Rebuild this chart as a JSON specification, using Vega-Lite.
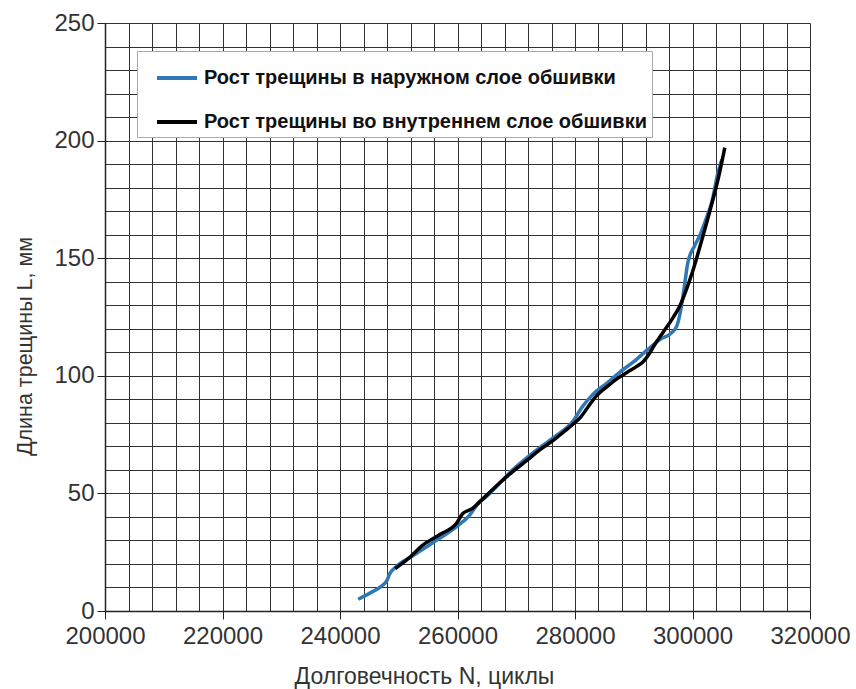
{
  "$schema": "https://vega.github.io/schema/vega-lite/v6.json",
  "width": 705,
  "height": 588,
  "autosize": "none",
  "padding": {"left": 105, "top": 23, "right": 46, "bottom": 78},
  "background": "white",
  "config": {
    "font": "Liberation Sans",
    "view": {"stroke": null}
  },
  "data": {
    "values": [
      {"N": 243100, "L": 5, "s": "Рост трещины в наружном слое обшивки"},
      {"N": 245000, "L": 7.5, "s": "Рост трещины в наружном слое обшивки"},
      {"N": 247000, "L": 10.5, "s": "Рост трещины в наружном слое обшивки"},
      {"N": 248000, "L": 13, "s": "Рост трещины в наружном слое обшивки"},
      {"N": 248500, "L": 16, "s": "Рост трещины в наружном слое обшивки"},
      {"N": 249400, "L": 18.5, "s": "Рост трещины в наружном слое обшивки"},
      {"N": 252400, "L": 23.5, "s": "Рост трещины в наружном слое обшивки"},
      {"N": 255800, "L": 29, "s": "Рост трещины в наружном слое обшивки"},
      {"N": 259900, "L": 36, "s": "Рост трещины в наружном слое обшивки"},
      {"N": 262000, "L": 40.5, "s": "Рост трещины в наружном слое обшивки"},
      {"N": 263300, "L": 45, "s": "Рост трещины в наружном слое обшивки"},
      {"N": 265500, "L": 50, "s": "Рост трещины в наружном слое обшивки"},
      {"N": 269400, "L": 60, "s": "Рост трещины в наружном слое обшивки"},
      {"N": 273500, "L": 68.5, "s": "Рост трещины в наружном слое обшивки"},
      {"N": 276500, "L": 74, "s": "Рост трещины в наружном слое обшивки"},
      {"N": 279600, "L": 80.5, "s": "Рост трещины в наружном слое обшивки"},
      {"N": 281300, "L": 87, "s": "Рост трещины в наружном слое обшивки"},
      {"N": 283000, "L": 92, "s": "Рост трещины в наружном слое обшивки"},
      {"N": 285500, "L": 97, "s": "Рост трещины в наружном слое обшивки"},
      {"N": 287600, "L": 101.5, "s": "Рост трещины в наружном слое обшивки"},
      {"N": 290000, "L": 106, "s": "Рост трещины в наружном слое обшивки"},
      {"N": 292300, "L": 111, "s": "Рост трещины в наружном слое обшивки"},
      {"N": 294500, "L": 115.5, "s": "Рост трещины в наружном слое обшивки"},
      {"N": 296300, "L": 118, "s": "Рост трещины в наружном слое обшивки"},
      {"N": 297300, "L": 121, "s": "Рост трещины в наружном слое обшивки"},
      {"N": 298000, "L": 128, "s": "Рост трещины в наружном слое обшивки"},
      {"N": 298500, "L": 136, "s": "Рост трещины в наружном слое обшивки"},
      {"N": 299200, "L": 148, "s": "Рост трещины в наружном слое обшивки"},
      {"N": 300300, "L": 155, "s": "Рост трещины в наружном слое обшивки"},
      {"N": 301300, "L": 160, "s": "Рост трещины в наружном слое обшивки"},
      {"N": 302500, "L": 168, "s": "Рост трещины в наружном слое обшивки"},
      {"N": 303300, "L": 174, "s": "Рост трещины в наружном слое обшивки"},
      {"N": 304300, "L": 186, "s": "Рост трещины в наружном слое обшивки"},
      {"N": 305000, "L": 192, "s": "Рост трещины в наружном слое обшивки"},
      {"N": 249400, "L": 18, "s": "Рост трещины во внутреннем слое обшивки"},
      {"N": 251500, "L": 22, "s": "Рост трещины во внутреннем слое обшивки"},
      {"N": 254100, "L": 28, "s": "Рост трещины во внутреннем слое обшивки"},
      {"N": 257000, "L": 32.5, "s": "Рост трещины во внутреннем слое обшивки"},
      {"N": 259900, "L": 37.5, "s": "Рост трещины во внутреннем слое обшивки"},
      {"N": 260900, "L": 41.5, "s": "Рост трещины во внутреннем слое обшивки"},
      {"N": 262500, "L": 43.5, "s": "Рост трещины во внутреннем слое обшивки"},
      {"N": 263800, "L": 46.5, "s": "Рост трещины во внутреннем слое обшивки"},
      {"N": 265500, "L": 50.5, "s": "Рост трещины во внутреннем слое обшивки"},
      {"N": 267200, "L": 54.5, "s": "Рост трещины во внутреннем слое обшивки"},
      {"N": 269500, "L": 59.5, "s": "Рост трещины во внутреннем слое обшивки"},
      {"N": 271800, "L": 64, "s": "Рост трещины во внутреннем слое обшивки"},
      {"N": 274000, "L": 68.5, "s": "Рост трещины во внутреннем слое обшивки"},
      {"N": 276300, "L": 72.5, "s": "Рост трещины во внутреннем слое обшивки"},
      {"N": 278000, "L": 76, "s": "Рост трещины во внутреннем слое обшивки"},
      {"N": 279700, "L": 79.5, "s": "Рост трещины во внутреннем слое обшивки"},
      {"N": 281000, "L": 82.5, "s": "Рост трещины во внутреннем слое обшивки"},
      {"N": 282000, "L": 86, "s": "Рост трещины во внутреннем слое обшивки"},
      {"N": 283500, "L": 91, "s": "Рост трещины во внутреннем слое обшивки"},
      {"N": 285500, "L": 95.5, "s": "Рост трещины во внутреннем слое обшивки"},
      {"N": 287300, "L": 99, "s": "Рост трещины во внутреннем слое обшивки"},
      {"N": 288900, "L": 101.5, "s": "Рост трещины во внутреннем слое обшивки"},
      {"N": 290500, "L": 104, "s": "Рост трещины во внутреннем слое обшивки"},
      {"N": 291600, "L": 106, "s": "Рост трещины во внутреннем слое обшивки"},
      {"N": 292800, "L": 110, "s": "Рост трещины во внутреннем слое обшивки"},
      {"N": 293500, "L": 113, "s": "Рост трещины во внутреннем слое обшивки"},
      {"N": 295000, "L": 118.5, "s": "Рост трещины во внутреннем слое обшивки"},
      {"N": 296500, "L": 124, "s": "Рост трещины во внутреннем слое обшивки"},
      {"N": 297900, "L": 130, "s": "Рост трещины во внутреннем слое обшивки"},
      {"N": 299000, "L": 137, "s": "Рост трещины во внутреннем слое обшивки"},
      {"N": 300100, "L": 145, "s": "Рост трещины во внутреннем слое обшивки"},
      {"N": 301500, "L": 157, "s": "Рост трещины во внутреннем слое обшивки"},
      {"N": 303000, "L": 170.5, "s": "Рост трещины во внутреннем слое обшивки"},
      {"N": 304300, "L": 183, "s": "Рост трещины во внутреннем слое обшивки"},
      {"N": 305500, "L": 197, "s": "Рост трещины во внутреннем слое обшивки"}
    ]
  },
  "mark": {"type": "line", "strokeWidth": 3.5, "interpolate": "monotone"},
  "encoding": {
    "x": {
      "field": "N",
      "type": "quantitative",
      "scale": {"domain": [200000, 320000], "nice": false, "zero": false},
      "axis": {
        "title": "Долговечность N, циклы",
        "values": [200000, 204000, 208000, 212000, 216000, 220000, 224000, 228000, 232000, 236000, 240000, 244000, 248000, 252000, 256000, 260000, 264000, 268000, 272000, 276000, 280000, 284000, 288000, 292000, 296000, 300000, 304000, 308000, 312000, 316000, 320000],
        "format": "d",
        "labelExpr": "datum.value % 20000 === 0 ? datum.label : ''",
        "tickOpacity": {"condition": {"test": "datum.value % 20000 === 0", "value": 1}, "value": 0},
        "tickSize": 8,
        "tickColor": "#222",
        "labelFontSize": 24,
        "labelColor": "#333",
        "labelPadding": 5,
        "labelFlush": false,
        "labelOverlap": false,
        "grid": true,
        "gridColor": "#333",
        "gridWidth": 1,
        "gridOpacity": 1,
        "domainColor": "#222",
        "domainWidth": 1.5,
        "titleFontSize": 23,
        "titleFontWeight": "normal",
        "titleColor": "#333",
        "titleX": 319,
        "titleY": 65,
        "titleAlign": "center",
        "titleBaseline": "middle"
      }
    },
    "y": {
      "field": "L",
      "type": "quantitative",
      "scale": {"domain": [0, 250], "nice": false},
      "axis": {
        "title": "Длина трещины L, мм",
        "values": [0, 10, 20, 30, 40, 50, 60, 70, 80, 90, 100, 110, 120, 130, 140, 150, 160, 170, 180, 190, 200, 210, 220, 230, 240, 250],
        "labelExpr": "datum.value % 50 === 0 ? datum.label : ''",
        "tickOpacity": {"condition": {"test": "datum.value % 50 === 0", "value": 1}, "value": 0},
        "tickSize": 8,
        "tickColor": "#222",
        "labelFontSize": 24,
        "labelColor": "#333",
        "labelPadding": 3,
        "labelFlush": false,
        "labelOverlap": false,
        "grid": true,
        "gridColor": "#333",
        "gridWidth": 1,
        "gridOpacity": 1,
        "domainColor": "#222",
        "domainWidth": 1.5,
        "titleFontSize": 21.5,
        "titleFontWeight": "normal",
        "titleColor": "#333",
        "titleX": -80,
        "titleY": 323,
        "titleAngle": -90,
        "titleAlign": "center",
        "titleBaseline": "middle"
      }
    },
    "color": {
      "field": "s",
      "type": "nominal",
      "scale": {
        "domain": ["Рост трещины в наружном слое обшивки", "Рост трещины во внутреннем слое обшивки"],
        "range": ["#2f78b5", "#000000"]
      },
      "legend": {
        "title": null,
        "orient": "none",
        "legendX": 32,
        "legendY": 28,
        "fillColor": "white",
        "strokeColor": "#aaa",
        "padding": 5,
        "rowPadding": 12,
        "symbolType": "stroke",
        "symbolSize": 1600,
        "symbolOffset": 13,
        "symbolStrokeWidth": 4,
        "labelFontSize": 20,
        "labelColor": "#111",
        "labelFontWeight": "bold",
        "labelOffset": 5,
        "labelLimit": 700
      }
    }
  }
}
